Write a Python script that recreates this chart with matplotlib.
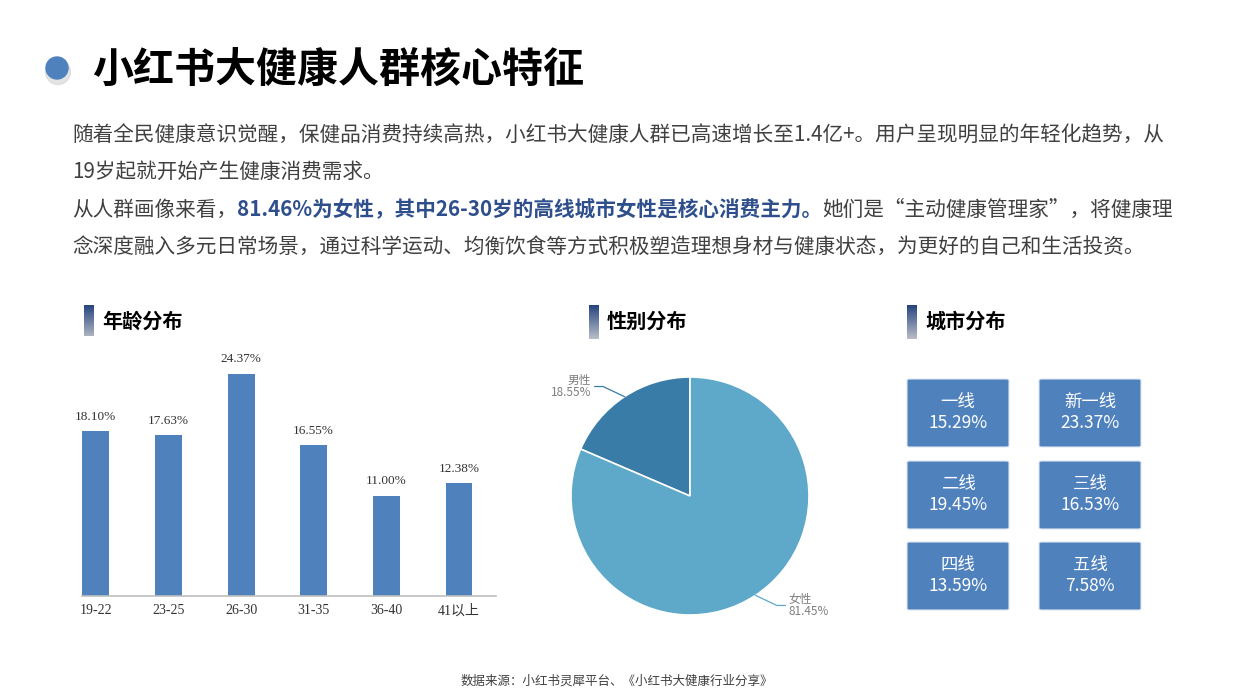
import numpy as np
import matplotlib
matplotlib.use("Agg")
import matplotlib.pyplot as plt
from matplotlib.patches import Ellipse, FancyBboxPatch
from matplotlib.colors import LinearSegmentedColormap

plt.rcParams['font.family'] = ['Noto Sans CJK SC', 'DejaVu Sans']

# ---------------- data ----------------
title = "小红书大健康人群核心特征"
age_groups = ["19-22", "23-25", "26-30", "31-35", "36-40", "41以上"]
age_share = [18.10, 17.63, 24.37, 16.55, 11.00, 12.38]
gender_labels = ["男性", "女性"]
gender_share = [18.55, 81.45]
city_tiers = ["一线", "新一线", "二线", "三线", "四线", "五线"]
city_share = [15.29, 23.37, 19.45, 16.53, 13.59, 7.58]
source_note = "数据来源：小红书灵犀平台、《小红书大健康行业分享》"

W, H = 1240, 697
fig = plt.figure(figsize=(W / 100, H / 100), dpi=100)
fig.patch.set_facecolor("white")

def fx(x):
    return x / W

def fy(y):
    return 1 - y / H

renderer = fig.canvas.get_renderer()
TXT = "#404040"
BLUE = "#4f81bd"

# ---------------- title ----------------
fig.add_artist(Ellipse((fx(58), fy(72)), 25 / W, 25 / H, transform=fig.transFigure,
                       color="#cfcfcf", alpha=0.55, zorder=1))
fig.add_artist(Ellipse((fx(57), fy(68)), 22 / W, 22 / H, transform=fig.transFigure,
                       color=BLUE, zorder=2))
fig.text(fx(92), fy(70), title, fontsize=29.5, fontweight="heavy", color="black",
         va="center", ha="left")

# ---------------- body text ----------------
BODY_FS = 14.85

def seq_text(x, y, pieces):
    for s, color, weight in pieces:
        t = fig.text(fx(x), fy(y), s, fontsize=BODY_FS, color=color, fontweight=weight,
                     va="center", ha="left")
        x += t.get_window_extent(renderer).width

seq_text(72, 136, [("随着全民健康意识觉醒，保健品消费持续高热，小红书大健康人群已高速增长至1.4亿+。用户呈现明显的年轻化趋势，从", TXT, "normal")])
seq_text(72, 172, [("19岁起就开始产生健康消费需求。", TXT, "normal")])
seq_text(72, 210, [("从人群画像来看，", TXT, "normal"),
                   ("81.46%为女性，其中26-30岁的高线城市女性是核心消费主力。", "#2e4f8c", "bold"),
                   ("她们是“主动健康管理家”，将健康理", TXT, "normal")])
seq_text(72, 247, [("念深度融入多元日常场景，通过科学运动、均衡饮食等方式积极塑造理想身材与健康状态，为更好的自己和生活投资。", TXT, "normal")])

# ---------------- section headers ----------------
grad_cmap = LinearSegmentedColormap.from_list("hdr", ["#22427d", "#b9bdc7"])

def header(xbar, text_x, label):
    ax = fig.add_axes([fx(xbar), fy(339), 10 / W, 34 / H])
    ax.imshow(np.linspace(0, 1, 64).reshape(-1, 1), aspect="auto", cmap=grad_cmap)
    ax.set_axis_off()
    fig.text(fx(text_x), fy(321), label, fontsize=14.5, fontweight="bold",
             color="black", va="center", ha="left")

header(84, 102, "年龄分布")
header(589, 607, "性别分布")
header(907, 925, "城市分布")

# ---------------- age bar chart ----------------
ax1 = fig.add_axes([fx(82), fy(596), (496 - 82) / W, (596 - 336) / H])
x = np.arange(len(age_groups))
ax1.bar(x, age_share, width=0.37, color=BLUE, zorder=2)
ax1.set_xlim(-0.19, 5.51)
ax1.set_ylim(0, 28.5)
for s in ["top", "right", "left"]:
    ax1.spines[s].set_visible(False)
ax1.spines["bottom"].set_color("#bfbfbf")
ax1.spines["bottom"].set_linewidth(1.2)
ax1.set_yticks([])
ax1.set_xticks(x)
ax1.set_xticklabels(age_groups, family=["Liberation Serif", "Noto Sans CJK SC"],
                    fontsize=10, color="#333333")
ax1.tick_params(axis="x", length=0, pad=6)
for xi, v in zip(x, age_share):
    ax1.annotate(f"{v:.2f}%", (xi, v), xytext=(0, 6), textcoords="offset points",
                 ha="center", va="bottom", fontsize=9.5, color="#333333",
                 family=["Liberation Serif", "Noto Sans CJK SC"])

# ---------------- gender pie ----------------
R = 119
cx, cy = 690, 496
ax2 = fig.add_axes([fx(cx - R), fy(cy + R), 2 * R / W, 2 * R / H])
pie_colors = ["#3a7ca8", "#5ea8ca"]
wedges, _ = ax2.pie(gender_share, colors=pie_colors, startangle=90,
                    counterclock=True, radius=1,
                    wedgeprops=dict(edgecolor="white", linewidth=1.2))
ax2.set_xlim(-1, 1)
ax2.set_ylim(-1, 1)
ax2.set_aspect("equal")
ax2.set_axis_off()

# label leader lines start at wedge mid-angles
start = 90.0
for i, v in enumerate(gender_share):
    sweep = 360.0 * v / sum(gender_share)
    a = np.deg2rad(start + sweep / 2)
    start += sweep
    p0 = (np.cos(a), np.sin(a))
    sgn = np.sign(p0[0])
    elbow = (p0[0] + sgn * 0.18, p0[1] + np.sign(p0[1]) * 0.085)
    end = (elbow[0] + sgn * 0.07, elbow[1])
    ax2.plot([p0[0], elbow[0], end[0]], [p0[1], elbow[1], end[1]],
             color=pie_colors[i], lw=0.9, clip_on=False)
    ax2.text(end[0] + sgn * 0.03, end[1], f"{gender_labels[i]}\n{v:.2f}%",
             ha="right" if sgn < 0 else "left", va="center", fontsize=8.5,
             color="#7f7f7f", linespacing=0.95, clip_on=False)

# ---------------- city tiles ----------------
cols_x = [907, 1039]
rows_y = [379, 461, 542]
bw, bh = 102, 68
for i, (name, v) in enumerate(zip(city_tiers, city_share)):
    r, c = divmod(i, 2)
    x0, y0 = cols_x[c], rows_y[r]
    box = FancyBboxPatch((fx(x0), fy(y0 + bh)), bw / W, bh / H,
                         boxstyle="round,pad=0,rounding_size=0.002",
                         transform=fig.transFigure, facecolor=BLUE,
                         edgecolor="#dce6f2", linewidth=0.8)
    fig.add_artist(box)
    fig.text(fx(x0 + bw / 2), fy(y0 + 23), name, fontsize=12.5, color="white",
             ha="center", va="center")
    fig.text(fx(x0 + bw / 2), fy(y0 + 44), f"{v:.2f}%", fontsize=12.5, color="white",
             ha="center", va="center")

# ---------------- footer ----------------
fig.text(fx(617), fy(681), source_note, fontsize=9, color=TXT, ha="center", va="center")

fig.savefig("out.png", dpi=100, facecolor="white")
